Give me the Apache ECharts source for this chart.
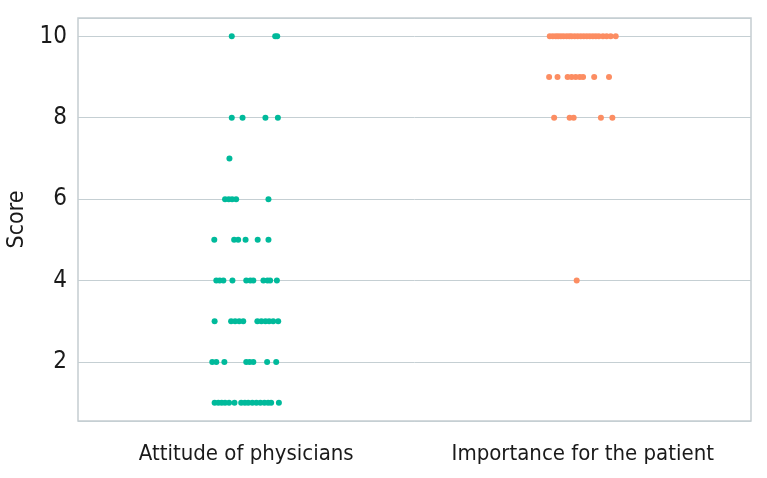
<!DOCTYPE html>
<html>
<head>
<meta charset="utf-8">
<script src="https://cdn.jsdelivr.net/npm/echarts@6/dist/echarts.min.js"></script>
<style>
html,body{margin:0;padding:0;background:#fff;}
#chart{width:767px;height:478px;}
</style>
</head>
<body>
<div id="chart"></div>
<script>
// Categories
const categories = ['Attitude of physicians', 'Importance for the patient'];

// Attitude of physicians: scores and horizontal jitter (category units)
const attitudeScores = [
  10, 10, 10,
  8, 8, 8, 8,
  7,
  6, 6, 6, 6, 6,
  5, 5, 5, 5, 5, 5,
  4, 4, 4, 4, 4, 4, 4, 4, 4, 4, 4,
  3, 3, 3, 3, 3, 3, 3, 3, 3, 3, 3,
  2, 2, 2, 2, 2, 2, 2, 2,
  1, 1, 1, 1, 1, 1, 1, 1, 1, 1, 1, 1, 1, 1, 1, 1
];
const attitudeJitter = [
  -0.043, 0.086, 0.092,
  -0.043, -0.011, 0.057, 0.094,
  -0.050,
  -0.063, -0.052, -0.042, -0.030, 0.066,
  -0.095, -0.036, -0.024, -0.002, 0.034, 0.066,
  -0.089, -0.079, -0.068, -0.041, 0.000, 0.012, 0.021, 0.051, 0.063, 0.071, 0.091,
  -0.094, -0.045, -0.033, -0.021, -0.009, 0.033, 0.045, 0.057, 0.068, 0.080, 0.095,
  -0.101, -0.089, -0.065, 0.000, 0.010, 0.021, 0.062, 0.089,
  -0.094, -0.083, -0.073, -0.063, -0.051, -0.035, -0.015, -0.004, 0.006, 0.018, 0.030, 0.042, 0.054, 0.065, 0.074, 0.097
];

// Importance for the patient
const importanceScores = [
  10, 10, 10, 10, 10, 10, 10, 10, 10, 10, 10, 10, 10, 10, 10, 10, 10, 10, 10, 10, 10, 10,
  9, 9, 9, 9, 9, 9, 9, 9, 9,
  8, 8, 8, 8, 8,
  4
];
const importanceJitter = [
  -0.098, -0.089, -0.080, -0.073, -0.065, -0.057, -0.048, -0.040, -0.033, -0.024, -0.015,
  -0.006, 0.003, 0.012, 0.021, 0.030, 0.039, 0.048, 0.060, 0.071, 0.083, 0.098,
  -0.100, -0.075, -0.045, -0.033, -0.021, -0.009, 0.001, 0.034, 0.078,
  -0.085, -0.039, -0.027, 0.054, 0.088,
  -0.018
];

const FONT = "'Liberation Sans Narrow','DejaVu Sans Condensed',sans-serif";

function build(catIndex, scores, jitter) {
  return scores.map((s, i) => [catIndex + 1 + jitter[i], s]);
}

const chart = echarts.init(document.getElementById('chart'), null, {renderer: 'canvas'});
chart.setOption({
  animation: false,
  backgroundColor: '#ffffff',
  grid: {
    left: 78, right: 16, top: 18, bottom: 57,
    outerBoundsMode: 'none',
    containLabel: false,
    show: true, borderColor: '#c5cdd1', borderWidth: 1.5, backgroundColor: 'transparent'
  },
  xAxis: [
    {
      type: 'category',
      data: categories,
      boundaryGap: true,
      axisLine: {show: false},
      axisTick: {show: false},
      axisLabel: {fontFamily: FONT, fontSize: 22, color: '#1a1a1a', margin: 22, interval: 0},
      splitLine: {show: false}
    },
    {
      type: 'value',
      min: 0.5, max: 2.5,
      show: false
    }
  ],
  yAxis: {
    type: 'value',
    min: 0.55, max: 10.45,
    splitNumber: 5,
    name: 'Score',
    nameLocation: 'middle',
    nameGap: 48,
    nameTextStyle: {fontFamily: FONT, fontSize: 23, color: '#1a1a1a'},
    axisLine: {show: false},
    axisTick: {show: false},
    axisLabel: {fontFamily: FONT, fontSize: 24, color: '#1a1a1a', margin: 11, showMinLabel: false, showMaxLabel: false},
    splitLine: {lineStyle: {color: '#c5cfd3', width: 1}}
  },
  series: [
    {
      type: 'scatter',
      xAxisIndex: 1,
      data: build(0, attitudeScores, attitudeJitter),
      symbolSize: 6,
      itemStyle: {color: '#00BA9B', opacity: 1}
    },
    {
      type: 'scatter',
      xAxisIndex: 1,
      data: build(1, importanceScores, importanceJitter),
      symbolSize: 6,
      itemStyle: {color: '#FC8D62', opacity: 1}
    }
  ]
});
</script>
</body>
</html>
